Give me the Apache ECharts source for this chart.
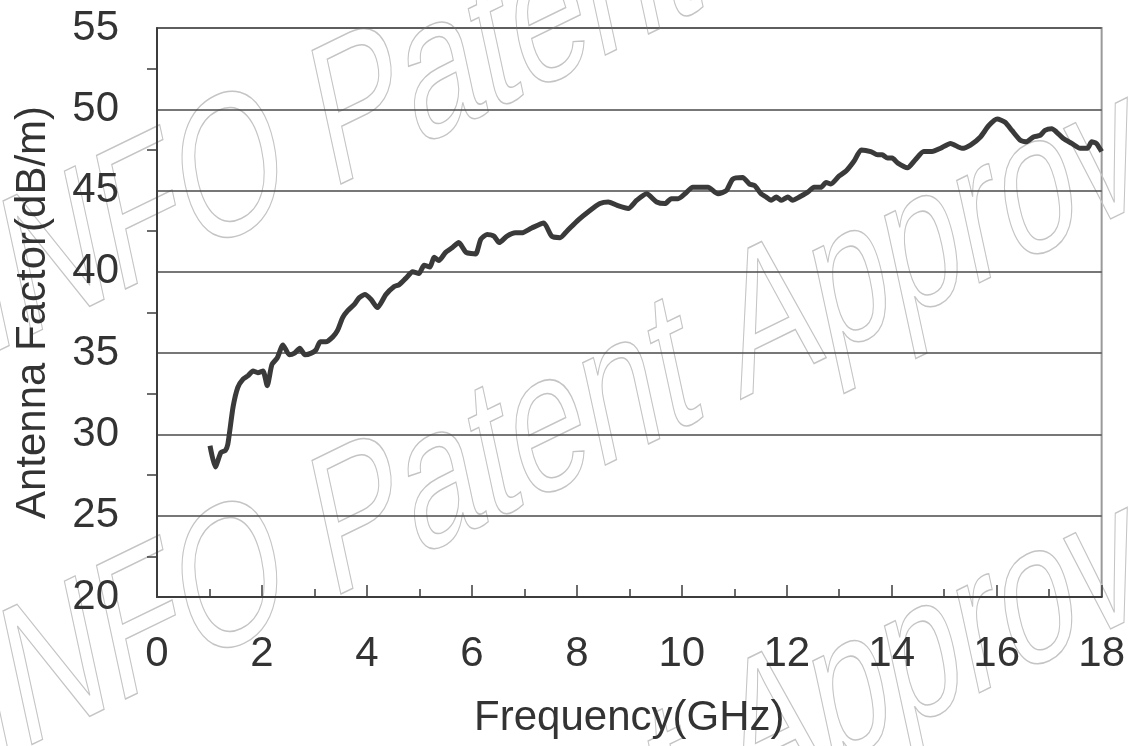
<!DOCTYPE html>
<html>
<head>
<meta charset="utf-8">
<script src="https://cdn.jsdelivr.net/npm/echarts@6/dist/echarts.min.js"></script>
<style>
html,body{margin:0;padding:0;background:#fff;}
#chart{width:1128px;height:746px;}
</style>
</head>
<body>
<div id="chart"></div>
<script>
const freqGHz = [1.01,1.11,1.22,1.30,1.35,1.45,1.54,1.64,1.73,1.83,1.92,2.02,2.10,2.19,2.29,2.40,2.52,2.62,2.72,2.82,2.94,3.03,3.11,3.22,3.35,3.44,3.54,3.63,3.76,3.85,3.96,4.08,4.20,4.36,4.52,4.61,4.74,4.87,4.99,5.09,5.20,5.28,5.37,5.50,5.63,5.75,5.89,6.07,6.17,6.29,6.42,6.52,6.67,6.83,6.95,7.14,7.37,7.52,7.68,7.81,8.03,8.22,8.44,8.60,8.76,8.98,9.14,9.33,9.52,9.68,9.80,9.93,10.06,10.21,10.37,10.50,10.69,10.85,10.97,11.16,11.29,11.39,11.51,11.61,11.70,11.80,11.90,12.02,12.11,12.24,12.40,12.52,12.65,12.75,12.84,13.00,13.13,13.28,13.42,13.60,13.73,13.82,13.92,14.01,14.11,14.30,14.45,14.61,14.77,14.93,15.12,15.34,15.50,15.69,15.85,16.01,16.16,16.29,16.45,16.57,16.70,16.83,16.92,17.05,17.14,17.27,17.43,17.59,17.73,17.81,17.90,18.00];
const antennaFactor = [29.3,28.0,28.9,29.0,29.4,31.7,32.9,33.4,33.6,33.9,33.8,33.9,33.0,34.3,34.7,35.5,34.9,35.0,35.3,34.9,35.0,35.2,35.7,35.7,36.0,36.4,37.2,37.6,38.0,38.4,38.6,38.3,37.8,38.6,39.1,39.2,39.6,40.0,39.9,40.4,40.3,40.9,40.7,41.2,41.5,41.8,41.2,41.1,42.0,42.3,42.2,41.8,42.2,42.4,42.4,42.7,43.0,42.2,42.1,42.5,43.2,43.7,44.2,44.3,44.1,43.9,44.4,44.8,44.3,44.2,44.5,44.5,44.8,45.2,45.2,45.2,44.8,45.0,45.7,45.8,45.4,45.3,44.8,44.6,44.4,44.6,44.4,44.6,44.4,44.6,44.9,45.2,45.2,45.5,45.4,45.9,46.2,46.8,47.5,47.4,47.2,47.2,47.0,47.0,46.7,46.4,46.9,47.4,47.4,47.6,47.9,47.6,47.8,48.3,49.0,49.4,49.2,48.7,48.1,48.0,48.3,48.4,48.7,48.8,48.6,48.2,47.9,47.6,47.6,48.0,47.9,47.4];
const xAxisName = 'Frequency(GHz)';
const yAxisName = 'Antenna Factor(dB/m)';
const watermarkText = 'INFO Patent Approved';

const chart = echarts.init(document.getElementById('chart'), null, {renderer: 'canvas'});
const FONT = '"Liberation Sans", Arial, sans-serif';
const textColor = '#333333';
const deg = Math.PI / 180;

function wm(cx, cy) {
  return {
    type: 'group', silent: true, z: 0,
    x: cx, y: cy, scaleY: 1.5,
    children: [{
      type: 'text', silent: true, z: 0,
      x: 0, y: 0, rotation: 18 * deg,
      style: {
        text: watermarkText,
        font: '136px ' + FONT,
        fill: 'rgba(0,0,0,0)',
        stroke: '#c4c4c4',
        lineWidth: 1,
        align: 'center', verticalAlign: 'middle',
        textAlign: 'center', textVerticalAlign: 'middle'
      }
    }]
  };
}

chart.setOption({
  animation: false,
  backgroundColor: '#ffffff',
  grid: {left: 157, right: 22, top: 28, bottom: 149, show: true, borderColor: '#9a9a9a', borderWidth: 2, backgroundColor: 'transparent'},
  xAxis: {
    type: 'value', min: 0, max: 18, interval: 2,
    name: xAxisName, nameLocation: 'middle', nameGap: 100,
    nameTextStyle: {fontSize: 42, color: textColor, fontFamily: FONT},
    axisLine: {show: true, lineStyle: {color: '#3c3c3c', width: 2}},
    axisTick: {show: true, inside: true, length: 12, lineStyle: {color: '#3c3c3c', width: 1.5}},
    minorTick: {show: true, splitNumber: 2, length: 8, lineStyle: {color: '#3c3c3c', width: 1.5}},
    axisLabel: {fontSize: 42, color: textColor, fontFamily: FONT, margin: 36},
    splitLine: {show: false}
  },
  yAxis: {
    type: 'value', min: 20, max: 55, interval: 5,
    name: yAxisName, nameLocation: 'middle', nameGap: 103,
    nameTextStyle: {fontSize: 42, color: textColor, fontFamily: FONT},
    axisLine: {show: true, lineStyle: {color: '#3c3c3c', width: 2}},
    axisTick: {show: false},
    minorTick: {show: true, splitNumber: 2, length: 10, lineStyle: {color: '#3c3c3c', width: 1.5}},
    axisLabel: {fontSize: 42, color: textColor, fontFamily: FONT, margin: 38},
    splitLine: {show: true, lineStyle: {color: '#4a4a4a', width: 1.5}}
  },
  graphic: [wm(628, -15), wm(628, 395), wm(628, 805)],
  series: [{
    type: 'line',
    data: freqGHz.map((f, i) => [f, antennaFactor[i]]),
    showSymbol: false,
    smooth: 0.2,
    z: 5,
    lineStyle: {color: '#3a3a3a', width: 5}
  }]
});
</script>
</body>
</html>
